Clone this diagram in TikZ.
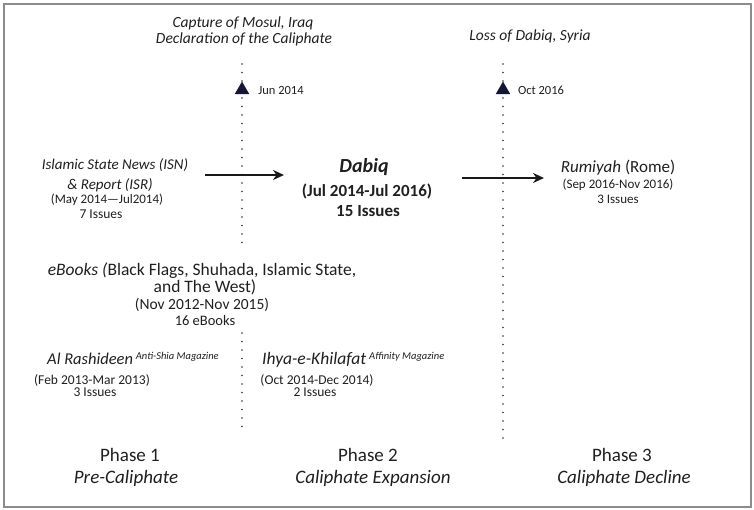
\documentclass[tikz,border=0pt]{standalone}
\usepackage{fontspec}
\setmainfont{Carlito}
\usepackage{tikz}
\usetikzlibrary{calc}
\usetikzlibrary{arrows.meta, shapes}
\definecolor{framegray}{rgb}{0.55,0.55,0.55}
\definecolor{markblue}{rgb}{0.08,0.09,0.2}
\newcommand{\fsz}[1]{\fontsize{#1}{#1}\selectfont}

\begin{document}
\begin{tikzpicture}[x=1pt, y=-1pt]
\tikzstyle{lbl}=[inner sep=0pt, align=center, text=black!88]
\tikzstyle{timeline}=[line width=1.8pt, line cap=round, dash pattern=on 0pt off 8.5pt, black!80]
\tikzstyle{event}=[regular polygon, regular polygon sides=3, fill=markblue, inner sep=0pt, minimum size=17pt]
\tikzstyle{flow}=[-{Stealth[length=11pt, width=10pt]}, line width=1.9pt, black!90]

\useasboundingbox (0,0) rectangle (754,510);
\draw[framegray, line width=1.5pt] (4,4) rectangle (751,507);

% timelines
\coordinate (t1a) at (242,64);
\coordinate (t1b) at (242,245);
\coordinate (t1c) at (242,333);
\coordinate (t1d) at (242,432);
\coordinate (t2a) at (503,64);
\coordinate (t2b) at (503,441);
\draw[timeline] (t1a) -- (t1b);
\draw[timeline] (t1c) -- (t1d);
\draw[timeline] (t2a) -- (t2b);

\path (242,90) node[event] (jun) {}
      (503,90) node[event] (oct) {};

\path (243,23) node[lbl, font=\fsz{15.5}\itshape] (mosul) {Capture of Mosul, Iraq}
      (244,39) node[lbl, font=\fsz{15.5}\itshape] (caliph) {Declaration of the Caliphate}
      (530,36) node[lbl, font=\fsz{15.5}\itshape] (syria) {Loss of Dabiq, Syria}
      (281,90) node[lbl, font=\fsz{12.5}] (junlbl) {Jun 2014}
      (541,90) node[lbl, font=\fsz{12.5}] (octlbl) {Oct 2016};

% phase 1 to 3 magazines
\path (115,165) node[lbl, font=\fsz{15}\itshape] (isn1) {Islamic State News (ISN)}
      (110,185) node[lbl, font=\fsz{15}\itshape] (isn2) {\& Report (ISR)}
      (107,200) node[lbl, font=\fsz{13}] (isn3) {(May 2014---Jul2014)}
      (101,214) node[lbl, font=\fsz{13.5}] (isn4) {7 Issues};

\path (364,167) node[lbl, font=\fsz{20}\bfseries\itshape] (dabiq1) {Dabiq}
      (367,191) node[lbl, font=\fsz{17}\bfseries] (dabiq2) {(Jul 2014-Jul 2016)}
      (368,211) node[lbl, font=\fsz{17}\bfseries] (dabiq3) {15 Issues};

\path (618,168) node[lbl, font=\fsz{17}] (rum1) {\textit{Rumiyah} (Rome)}
      (618,185) node[lbl, font=\fsz{13}] (rum2) {(Sep 2016-Nov 2016)}
      (618,199) node[lbl, font=\fsz{13}] (rum3) {3 Issues};

\coordinate (f1s) at (205,175);
\coordinate (f1e) at (284,175);
\coordinate (f2s) at (462,178);
\coordinate (f2e) at (544,178);
\draw[flow] (f1s) -- (f1e);
\draw[flow] (f2s) -- (f2e);

\path (202,271) node[lbl, font=\fsz{17.5}] (ebk1) {\textit{eBooks (}Black Flags, Shuhada, Islamic State,}
      (205,287) node[lbl, font=\fsz{17.5}] (ebk2) {and The West)}
      (202,305) node[lbl, font=\fsz{15.5}] (ebk3) {(Nov 2012-Nov 2015)}
      (205,321) node[lbl, font=\fsz{14.5}] (ebk4) {16 eBooks};

\path (47,364) node[lbl, anchor=base west, font=\fsz{16.5}\itshape] (rash1) {Al Rashideen\,\raisebox{5pt}{\fsz{10.5}Anti-Shia Magazine}}
      (92,380) node[lbl, font=\fsz{13.5}] (rash2) {(Feb 2013-Mar 2013)}
      (95,392) node[lbl, font=\fsz{13.5}] (rash3) {3 Issues};

\path (262,364) node[lbl, anchor=base west, font=\fsz{17.5}\itshape] (ihya1) {Ihya-e-Khilafat\,\raisebox{5pt}{\fsz{10.5}Affinity Magazine}}
      (317,380) node[lbl, font=\fsz{13.5}] (ihya2) {(Oct 2014-Dec 2014)}
      (315,392) node[lbl, font=\fsz{13.5}] (ihya3) {2 Issues};

% phases
\path (130,455) node[lbl, font=\fsz{19}] (ph1) {Phase 1}
      (126,478) node[lbl, font=\fsz{19}\itshape] (ph1b) {Pre-Caliphate}
      (368,455) node[lbl, font=\fsz{19}] (ph2) {Phase 2}
      (373,478) node[lbl, font=\fsz{19}\itshape] (ph2b) {Caliphate Expansion}
      (622,455) node[lbl, font=\fsz{19}] (ph3) {Phase 3}
      (624,478) node[lbl, font=\fsz{19}\itshape] (ph3b) {Caliphate Decline};

\end{tikzpicture}
\end{document}
